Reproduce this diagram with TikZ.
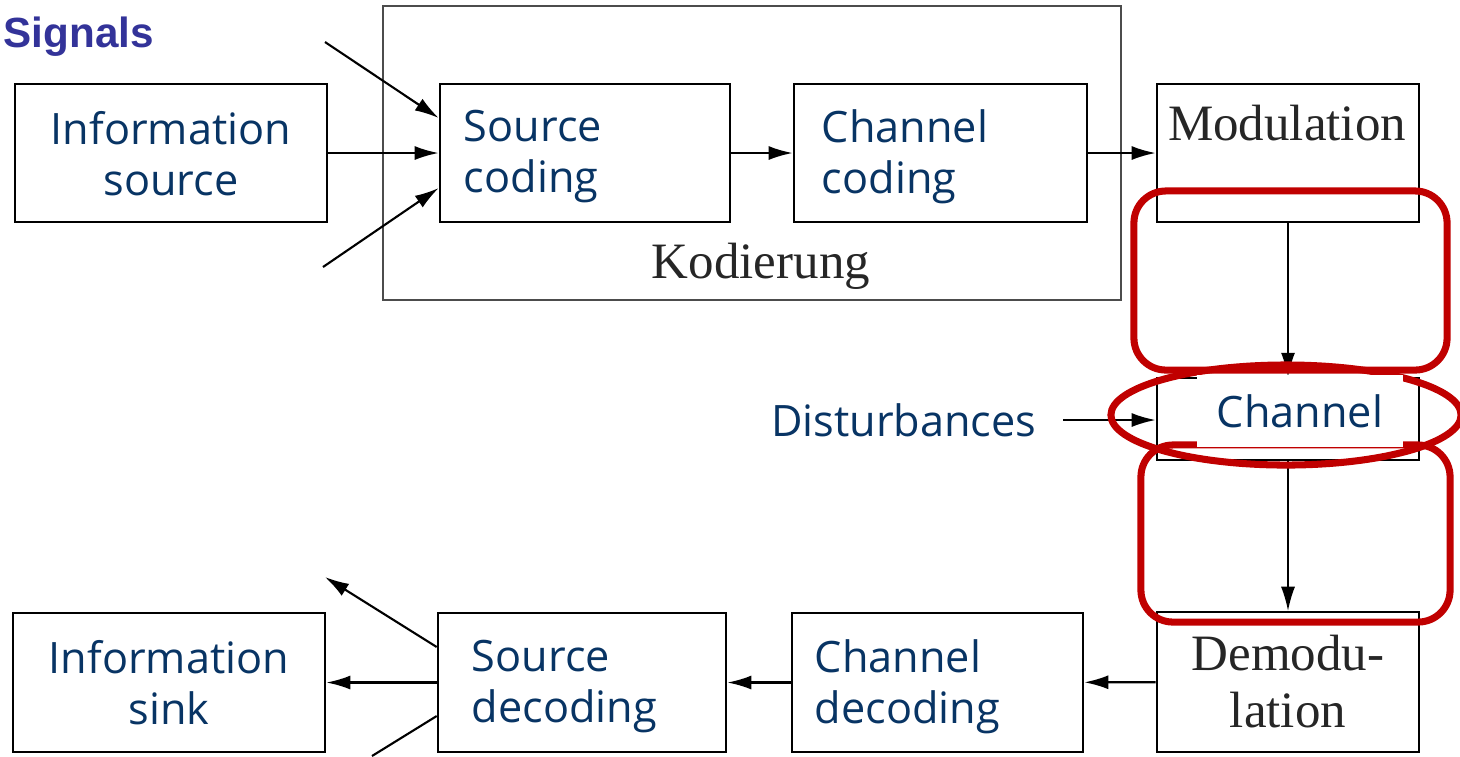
\documentclass[tikz,border=0pt]{standalone}
\usepackage{fontspec}
\setmainfont{Open Sans}
\newfontfamily\bookfont{Liberation Serif}
\newfontfamily\headfont{Liberation Sans}
\usetikzlibrary{arrows.meta,shapes.geometric}
\definecolor{txtblue}{RGB}{8,52,100}
\definecolor{headblue}{RGB}{51,51,153}
\definecolor{markred}{RGB}{192,0,0}
\begin{document}
\begin{tikzpicture}[x=0.01cm, y=-0.01cm,
  blk/.style={draw, line width=0.7pt, minimum height=1.38cm, inner ysep=0pt, text=txtblue, font=\fontsize{12.3}{14.5}\selectfont},
  lblk/.style={blk, align=left, text depth=15.2pt},
  booktxt/.style={text=black!85, font=\bookfont\fontsize{14.5}{16.2}\selectfont},
  arr/.style={-{Latex[length=0.24cm,width=0.14cm]}, line width=0.6pt},
  redmark/.style={draw=markred, line width=2pt}]
\useasboundingbox (0,0) rectangle (1460,756);
\node[anchor=base west, inner sep=0pt, text=headblue, font=\headfont\bfseries\fontsize{12}{14}\selectfont] (title) at (3,47) {Signals};
% Kodierung
\node[draw=black!70, line width=0.5pt, minimum width=7.38cm, minimum height=2.94cm] (kod) at (752,153) {};
\node[booktxt, anchor=base] (kodt) at (761,278) {Kodierung};
% sender side
\node[blk, text depth=0pt, minimum width=3.12cm, align=center] (src) at (171,153) {Information\\source};
\node[lblk, text width=2.42cm, inner xsep=0.24cm] (scod) at (585,153) {Source\\coding};
\node[lblk, text width=2.37cm, inner xsep=0.28cm] (ccod) at (940.5,153) {Channel\\coding};
\node[blk, minimum width=2.62cm] (mod) at (1288,153) {};
\node[booktxt, anchor=base] (modt) at (1287,140) {Modulation};
\coordinate (inA) at (325,42);
\coordinate (inC) at (323,267);
\draw[arr] (inA) -- ([yshift=0.35cm]scod.west);
\draw[arr] (src) -- (scod);
\draw[arr] (inC) -- ([yshift=-0.35cm]scod.west);
\draw[arr] (scod) -- (ccod);
\draw[arr] (ccod) -- (mod);
% channel
\node[blk, minimum width=2.62cm, minimum height=0.82cm] (chan) at (1288,419) {};
\node[anchor=east, inner sep=0pt, text=txtblue, font=\fontsize{12.3}{14.5}\selectfont] (dist) at (1037,420) {Disturbances};
\draw[arr, shorten <=0.26cm] (dist.east) -- (dist.east -| chan.west);
\draw[arr, line width=0.4pt] (mod) -- (chan);
% receiver side
\node[blk, booktxt, minimum width=2.62cm, minimum height=1.40cm, align=center] (demod) at (1288,682) {Demodu-\\lation};
\node[lblk, text width=2.45cm, inner xsep=0.23cm, minimum height=1.39cm] (cdec) at (937.5,682.5) {Channel\\decoding};
\node[lblk, text width=2.20cm, inner xsep=0.34cm, minimum height=1.39cm] (sdec) at (582,682.5) {Source\\decoding};
\node[blk, text depth=0pt, minimum width=3.12cm, minimum height=1.39cm, align=center] (sink) at (169,682.5) {Information\\sink};
\coordinate (outA) at (325,577);
\coordinate (outC) at (372,756);
\draw[arr, line width=0.4pt] (chan) -- (demod);
\draw[arr] (demod) -- (cdec);
\draw[arr] (cdec) -- (sdec);
\draw[arr] (sdec) -- (sink);
\draw[arr] ([yshift=0.355cm]sdec.west) -- (outA);
\draw[line width=0.6pt] ([yshift=-0.335cm]sdec.west) -- (outC);
% red marks
\node[redmark, rounded corners=0.32cm, minimum width=3.13cm, minimum height=1.79cm] (zoneA) at (1290.5,280.5) {};
\node[redmark, rounded corners=0.32cm, minimum width=3.09cm, minimum height=1.77cm] (zoneB) at (1295.5,533.5) {};
\node[redmark, ellipse, minimum width=3.50cm, minimum height=1.00cm] (ring) at (1286,415) {};
\node[fill=white, minimum width=2.06cm, minimum height=0.72cm, text=txtblue, font=\fontsize{12.3}{14.5}\selectfont] (chant) at (1300,411) {Channel};
\end{tikzpicture}
\end{document}
